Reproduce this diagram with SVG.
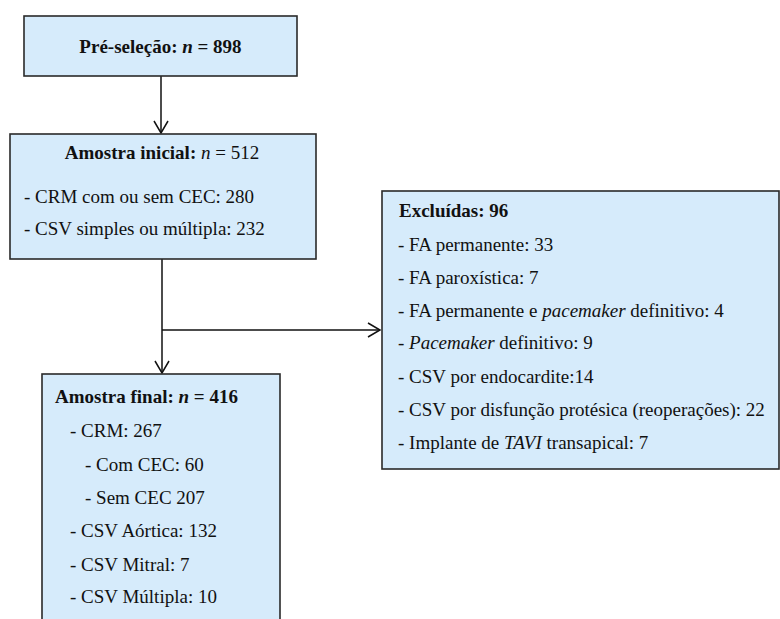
<svg xmlns="http://www.w3.org/2000/svg" width="780" height="619" viewBox="0 0 780 619">
<style>
.box{fill:#D6EBFB;stroke:#2a2a2a;stroke-width:1.6}
text{font-family:"Liberation Serif","Times New Roman",serif;font-size:19px;fill:#111}
.b{font-weight:bold}
.i{font-style:italic}
.c{stroke:#111;stroke-width:1.5;fill:none}
</style>
<defs>
<marker id="ah" viewBox="-13 -8 15 16" refX="0" refY="0" markerWidth="15" markerHeight="16" markerUnits="userSpaceOnUse" orient="auto">
<path d="M-12,-7 L0,0 L-12,7" fill="none" stroke="#111" stroke-width="1.5"/>
</marker>
</defs>
<rect width="780" height="619" fill="#fff"/>
<g id="connectors">
<line class="c" x1="161" y1="76" x2="161" y2="133" marker-end="url(#ah)"/>
<line class="c" x1="162" y1="259" x2="162" y2="373" stroke-width="2" marker-end="url(#ah)"/>
<line class="c" x1="162" y1="330" x2="380" y2="330" marker-end="url(#ah)"/>
</g>
<g id="preselecao">
<rect class="box" x="24" y="16" width="273" height="60"/>
<text x="160.5" y="53" text-anchor="middle" class="b">Pré-seleção: <tspan class="i">n</tspan> = 898</text>
</g>
<g id="amostra-inicial">
<rect class="box" x="10" y="134" width="306" height="125"/>
<text x="162" y="159" text-anchor="middle"><tspan class="b">Amostra inicial:</tspan> <tspan class="i">n</tspan> = 512</text>
<text x="24" y="203">- CRM com ou sem CEC: 280</text>
<text x="24" y="235">- CSV simples ou múltipla: 232</text>
</g>
<g id="excluidas">
<rect class="box" x="382" y="191" width="397" height="278"/>
<text x="399" y="217" class="b">Excluídas: 96</text>
<text x="398" y="251">- FA permanente: 33</text>
<text x="398" y="284">- FA paroxística: 7</text>
<text x="398" y="317">- FA permanente e <tspan class="i">pacemaker</tspan> definitivo: 4</text>
<text x="398" y="349">- <tspan class="i">Pacemaker</tspan> definitivo: 9</text>
<text x="398" y="383">- CSV por endocardite:14</text>
<text x="398" y="416">- CSV por disfunção protésica (reoperações): 22</text>
<text x="398" y="449">- Implante de <tspan class="i">TAVI</tspan> transapical: 7</text>
</g>
<g id="amostra-final">
<rect class="box" x="42" y="374" width="238" height="260"/>
<text x="55" y="403" class="b">Amostra final: <tspan class="i">n</tspan> = 416</text>
<text x="70" y="437">- CRM: 267</text>
<text x="85" y="471">- Com CEC: 60</text>
<text x="85" y="504">- Sem CEC 207</text>
<text x="70" y="537">- CSV Aórtica: 132</text>
<text x="70" y="571">- CSV Mitral: 7</text>
<text x="70" y="603">- CSV Múltipla: 10</text>
</g>
</svg>
